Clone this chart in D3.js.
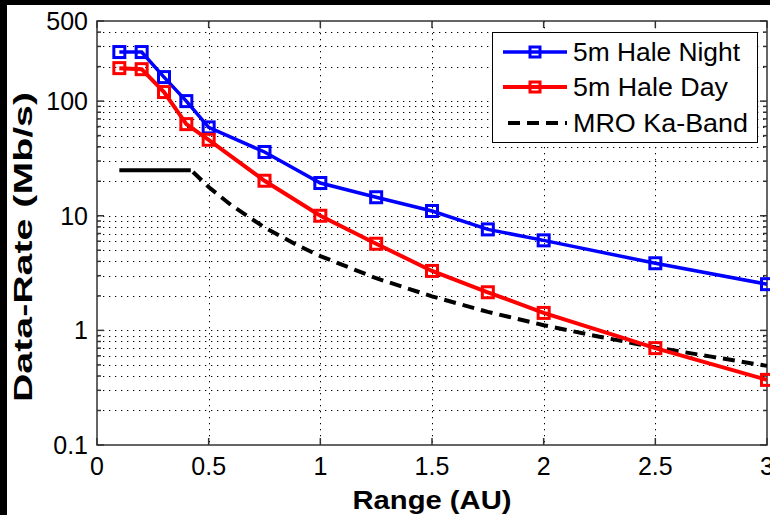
<!DOCTYPE html>
<html>
<head>
<meta charset="utf-8">
<script src="https://cdn.jsdelivr.net/npm/d3@7"></script>
<style>
  body { margin: 0; background: #000; }
  svg { display: block; }
  text { font-family: "Liberation Sans", Arial, sans-serif; fill: #000; }
</style>
</head>
<body>
<svg id="chart" width="770" height="515"></svg>
<script>
//Range in AU for the two Hale curves
var rangeAU = [0.1, 0.2, 0.3, 0.4, 0.5, 0.75, 1, 1.25, 1.5, 1.75, 2, 2.5, 3];
var haleNight = [268, 268, 162, 100, 59, 36, 19.3, 14.5, 11, 7.6, 6.1, 3.85, 2.53];
var haleDay = [194, 190, 120, 63, 46, 20.2, 10, 5.7, 3.3, 2.15, 1.42, 0.70, 0.37];

//MRO Ka-Band: flat cap then the falling curve
var mroFlatX = [0.1, 0.42];
var mroFlatY = [25, 25];
var mroX = [0.43, 0.5, 0.6, 0.75, 0.9, 1, 1.25, 1.5, 1.75, 2, 2.25, 2.5, 2.75, 3];
var mroY = [24.1, 17.8, 12.4, 7.9, 5.5, 4.45, 2.85, 1.98, 1.45, 1.11, 0.88, 0.71, 0.59, 0.49];

//Tick labels
var xTicks = [0, 0.5, 1, 1.5, 2, 2.5, 3];
var xTickLabels = ["0", "0.5", "1", "1.5", "2", "2.5", "3"];
var yTicks = [0.1, 1, 10, 100, 500];
var yTickLabels = ["0.1", "1", "10", "100", "500"];
var yMinor = [0.2, 0.3, 0.4, 0.5, 0.6, 0.7, 0.8, 0.9, 2, 3, 4, 5, 6, 7, 8, 9,
              20, 30, 40, 50, 60, 70, 80, 90, 200, 300, 400];

//Legend entries
var legendNames = ["5m Hale Night", "5m Hale Day", "MRO Ka-Band"];

(function(){
    var svg = d3.select("#chart");

    //Plot box
    var left = 97, right = 767, top = 21, bottom = 445;

    var x = d3.scaleLinear().domain([0, 3]).range([left, right]);
    var y = d3.scaleLog().domain([0.1, 500]).range([bottom, top]);

    //White page over the black frame
    svg.append("rect").attr("x", 0).attr("y", 0).attr("width", 770).attr("height", 515).style("fill", "#000");
    svg.append("rect").attr("x", 7).attr("y", 5).attr("width", 763).attr("height", 510).style("fill", "#fff");
    svg.append("rect").attr("x", left).attr("y", top).attr("width", right - left).attr("height", bottom - top).style("fill", "#fff");

    //Dotted grid
    var grid = svg.append("g").style("stroke", "#000").style("stroke-width", 1).style("stroke-dasharray", "1.3,4.7");
    yMinor.concat([1, 10, 100]).forEach(function(v){
        grid.append("line").attr("x1", left).attr("x2", right)
            .attr("y1", Math.round(y(v)) + 0.5).attr("y2", Math.round(y(v)) + 0.5);
    });
    xTicks.slice(1, -1).forEach(function(v){
        grid.append("line").attr("y1", top).attr("y2", bottom)
            .attr("x1", Math.round(x(v)) + 0.5).attr("x2", Math.round(x(v)) + 0.5);
    });

    //Ticks on all four sides
    var ticks = svg.append("g").style("stroke", "#333").style("stroke-width", 1.5);
    xTicks.forEach(function(v){
        ticks.append("line").attr("x1", x(v)).attr("x2", x(v)).attr("y1", bottom).attr("y2", bottom - 7);
        ticks.append("line").attr("x1", x(v)).attr("x2", x(v)).attr("y1", top).attr("y2", top + 7);
    });
    yTicks.forEach(function(v){
        ticks.append("line").attr("x1", left).attr("x2", left + 7).attr("y1", y(v)).attr("y2", y(v));
        ticks.append("line").attr("x1", right).attr("x2", right - 7).attr("y1", y(v)).attr("y2", y(v));
    });
    yMinor.forEach(function(v){
        ticks.append("line").attr("x1", left).attr("x2", left + 4).attr("y1", y(v)).attr("y2", y(v));
        ticks.append("line").attr("x1", right).attr("x2", right - 4).attr("y1", y(v)).attr("y2", y(v));
    });

    //Box
    svg.append("rect").attr("x", left).attr("y", top).attr("width", right - left).attr("height", bottom - top)
        .style("fill", "none").style("stroke", "#333").style("stroke-width", 1.5);

    //Tick labels
    xTicks.forEach(function(v, i){
        svg.append("text").attr("x", x(v)).attr("y", 475).attr("text-anchor", "middle")
            .style("font-size", "25px").text(xTickLabels[i]);
    });
    yTicks.forEach(function(v, i){
        svg.append("text").attr("x", 88).attr("y", y(v) + 9).attr("text-anchor", "end")
            .style("font-size", "25px").text(yTickLabels[i]);
    });

    //Axis titles
    svg.append("text").attr("x", 432).attr("y", 509).attr("text-anchor", "middle")
        .attr("textLength", 159).attr("lengthAdjust", "spacingAndGlyphs")
        .style("font-size", "25px").style("font-weight", "bold").text("Range (AU)");
    svg.append("text").attr("transform", "translate(32,247) rotate(-90)").attr("text-anchor", "middle")
        .attr("textLength", 310).attr("lengthAdjust", "spacingAndGlyphs")
        .style("font-size", "25px").style("font-weight", "bold").text("Data-Rate (Mb/s)");

    var line = d3.line().x(function(d){ return x(d[0]); }).y(function(d){ return y(d[1]); });

    //MRO Ka-Band
    svg.append("path").datum(d3.zip(mroFlatX, mroFlatY)).attr("d", line)
        .style("fill", "none").style("stroke", "#000").style("stroke-width", 4);
    svg.append("path").datum(d3.zip(mroX, mroY)).attr("d", line)
        .style("fill", "none").style("stroke", "#000").style("stroke-width", 4).style("stroke-dasharray", "12,7");

    //Hale series with square markers
    var series = [
        {vals: haleNight, color: "#0000ff", w: 3.5},
        {vals: haleDay, color: "#ff0000", w: 4}
    ];
    series.forEach(function(s){
        var pts = d3.zip(rangeAU, s.vals);
        svg.append("path").datum(pts).attr("d", line)
            .style("fill", "none").style("stroke", s.color).style("stroke-width", s.w);
        svg.append("g").selectAll("rect").data(pts).enter().append("rect")
            .attr("x", function(d){ return x(d[0]) - 5.5; })
            .attr("y", function(d){ return y(d[1]) - 5.5; })
            .attr("width", 11).attr("height", 11)
            .style("fill", "none").style("stroke", s.color).style("stroke-width", 3);
    });

    //Legend
    var lg = svg.append("g");
    lg.append("rect").attr("x", 492.5).attr("y", 32.5).attr("width", 265).attr("height", 110)
        .style("fill", "#fff").style("stroke", "#000").style("stroke-width", 1);
    var rows = [52, 87, 123];
    var widths = [167, 155, 175];
    [["#0000ff", 3.5], ["#ff0000", 4]].forEach(function(c, i){
        lg.append("line").attr("x1", 503).attr("x2", 567).attr("y1", rows[i]).attr("y2", rows[i])
            .style("stroke", c[0]).style("stroke-width", c[1]);
        lg.append("rect").attr("x", 530).attr("y", rows[i] - 5).attr("width", 10).attr("height", 10)
            .style("fill", "none").style("stroke", c[0]).style("stroke-width", 3);
    });
    lg.append("line").attr("x1", 508).attr("x2", 567).attr("y1", rows[2]).attr("y2", rows[2])
        .style("stroke", "#000").style("stroke-width", 4).style("stroke-dasharray", "12,7");
    legendNames.forEach(function(n, i){
        lg.append("text").attr("x", 573).attr("y", rows[i] + 9)
            .attr("textLength", widths[i]).attr("lengthAdjust", "spacingAndGlyphs")
            .style("font-size", "25px").text(n);
    });
})();
</script>
</body>
</html>
